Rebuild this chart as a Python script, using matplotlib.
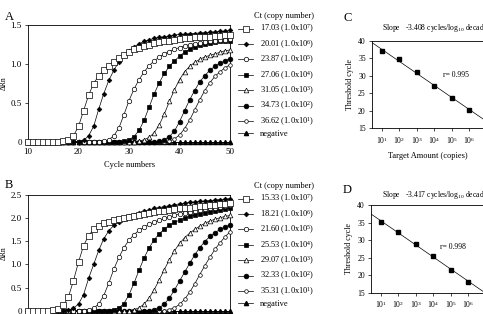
import numpy as np
import matplotlib
matplotlib.use('Agg')
import matplotlib.pyplot as plt
from matplotlib.lines import Line2D
from matplotlib.ticker import NullLocator, FixedLocator

plt.rcParams['font.family'] = ['Liberation Serif', 'DejaVu Serif']
plt.rcParams['mathtext.fontset'] = 'custom'
plt.rcParams['mathtext.rm'] = 'Liberation Serif'
plt.rcParams['mathtext.it'] = 'Liberation Serif:italic'
plt.rcParams['mathtext.bf'] = 'Liberation Serif:bold'

# ---- data -------------------------------------------------------------
cycles = list(range(10, 51))
copy_exp = [7, 6, 5, 4, 3, 2, 1]
ct_a = ['17.03', '20.01', '23.87', '27.06', '31.05', '34.73', '36.62']
ct_b = ['15.33', '18.21', '21.60', '25.53', '29.07', '32.33', '35.31']

# panel A, delta Rn per cycle (cycles 10..50)
a_e7 = [0, 0, 0, 0, 0, 0, 0, 0.01, 0.03, 0.08, 0.2, 0.4, 0.6, 0.75, 0.85, 0.92, 0.98, 1.03, 1.08, 1.12,
        1.16, 1.19, 1.21, 1.23, 1.25, 1.27, 1.28, 1.29, 1.3, 1.31, 1.32, 1.33, 1.33, 1.34, 1.34, 1.35,
        1.35, 1.36, 1.36, 1.37, 1.37]
a_e6 = [0, 0, 0, 0, 0, 0, 0, 0, 0, 0, 0, 0.02, 0.08, 0.2, 0.42, 0.62, 0.79, 0.92, 1.03, 1.11,
        1.17, 1.22, 1.26, 1.29, 1.31, 1.33, 1.34, 1.35, 1.36, 1.37, 1.38, 1.38, 1.39, 1.39, 1.4, 1.4,
        1.41, 1.41, 1.42, 1.42, 1.43]
a_e5 = [0, 0, 0, 0, 0, 0, 0, 0, 0, 0, 0, 0, 0, 0, 0, 0.01, 0.03, 0.08, 0.18, 0.35,
        0.53, 0.68, 0.8, 0.9, 0.98, 1.04, 1.09, 1.13, 1.16, 1.19, 1.21, 1.23, 1.25, 1.26, 1.27, 1.28,
        1.29, 1.3, 1.31, 1.31, 1.32]
a_e4 = [0, 0, 0, 0, 0, 0, 0, 0, 0, 0, 0, 0, 0, 0, 0, 0, 0, 0, 0, 0.01,
        0.03, 0.07, 0.15, 0.28, 0.45, 0.62, 0.76, 0.88, 0.97, 1.04, 1.1, 1.15, 1.19, 1.22, 1.24, 1.26,
        1.27, 1.28, 1.29, 1.3, 1.3]
a_e3 = [0, 0, 0, 0, 0, 0, 0, 0, 0, 0, 0, 0, 0, 0, 0, 0, 0, 0, 0, 0,
        0, 0, 0.01, 0.03, 0.06, 0.12, 0.22, 0.36, 0.52, 0.67, 0.8, 0.9, 0.97, 1.02, 1.06, 1.09,
        1.11, 1.13, 1.15, 1.17, 1.18]
a_e2 = [0, 0, 0, 0, 0, 0, 0, 0, 0, 0, 0, 0, 0, 0, 0, 0, 0, 0, 0, 0,
        0, 0, 0, 0, 0, 0, 0.01, 0.03, 0.07, 0.14, 0.26, 0.4, 0.54, 0.66, 0.77, 0.85,
        0.92, 0.97, 1.01, 1.04, 1.07]
a_e1 = [0, 0, 0, 0, 0, 0, 0, 0, 0, 0, 0, 0, 0, 0, 0, 0, 0, 0, 0, 0,
        0, 0, 0, 0, 0, 0, 0, 0, 0.01, 0.04, 0.09, 0.17, 0.28, 0.41, 0.54, 0.66,
        0.76, 0.84, 0.9, 0.95, 0.99]

# panel B
b_e7 = [0, 0, 0, 0, 0, 0.02, 0.05, 0.12, 0.3, 0.65, 1.05, 1.4, 1.62, 1.75, 1.83, 1.88, 1.92, 1.95, 1.98, 2.0,
        2.02, 2.04, 2.06, 2.08, 2.1, 2.12, 2.14, 2.15, 2.17, 2.18, 2.2, 2.21, 2.22, 2.24, 2.25, 2.26,
        2.27, 2.28, 2.29, 2.3, 2.31]
b_e6 = [0, 0, 0, 0, 0, 0, 0, 0, 0.02, 0.06, 0.15, 0.35, 0.7, 1.0, 1.3, 1.55, 1.72, 1.84, 1.92, 1.98,
        2.03, 2.07, 2.11, 2.14, 2.17, 2.2, 2.22, 2.24, 2.26, 2.28, 2.3, 2.31, 2.33, 2.34, 2.35, 2.36,
        2.37, 2.38, 2.39, 2.4, 2.41]
b_e5 = [0, 0, 0, 0, 0, 0, 0, 0, 0, 0, 0, 0, 0.02, 0.06, 0.15, 0.33, 0.6, 0.9, 1.15, 1.36,
        1.52, 1.64, 1.73, 1.8, 1.86, 1.91, 1.95, 1.99, 2.02, 2.05, 2.08, 2.1, 2.13, 2.15, 2.17, 2.19,
        2.21, 2.22, 2.24, 2.25, 2.27]
b_e4 = [0, 0, 0, 0, 0, 0, 0, 0, 0, 0, 0, 0, 0, 0, 0, 0, 0.01, 0.03, 0.07, 0.16,
        0.35, 0.6, 0.88, 1.14, 1.36, 1.53, 1.66, 1.76, 1.84, 1.9, 1.95, 1.99, 2.03, 2.06, 2.09, 2.11,
        2.13, 2.15, 2.17, 2.19, 2.2]
b_e3 = [0, 0, 0, 0, 0, 0, 0, 0, 0, 0, 0, 0, 0, 0, 0, 0, 0, 0, 0, 0,
        0.01, 0.03, 0.07, 0.15, 0.28, 0.46, 0.67, 0.89, 1.1, 1.29, 1.45, 1.57, 1.67, 1.75, 1.82, 1.88,
        1.93, 1.97, 2.0, 2.03, 2.05]
b_e2 = [0, 0, 0, 0, 0, 0, 0, 0, 0, 0, 0, 0, 0, 0, 0, 0, 0, 0, 0, 0,
        0, 0, 0, 0, 0.01, 0.03, 0.07, 0.15, 0.28, 0.45, 0.64, 0.83, 1.02, 1.2, 1.36, 1.49,
        1.6, 1.68, 1.75, 1.8, 1.85]
b_e1 = [0, 0, 0, 0, 0, 0, 0, 0, 0, 0, 0, 0, 0, 0, 0, 0, 0, 0, 0, 0,
        0, 0, 0, 0, 0, 0, 0, 0.01, 0.03, 0.07, 0.14, 0.25, 0.4, 0.58, 0.78, 0.97,
        1.15, 1.32, 1.46, 1.59, 1.7]
negative = [0] * len(cycles)

# standard curves (C, D)
target_exp = [1, 2, 3, 4, 5, 6]
ct_mean_c = [37.1, 34.6, 31.0, 27.0, 23.7, 20.1]
ct_err_c = [0.6, 0.5, 0.3, 0.3, 0.3, 0.5]
ct_mean_d = [35.3, 32.2, 29.0, 25.4, 21.5, 18.1]
ct_err_d = [0.5, 0.4, 0.3, 0.4, 0.4, 0.5]
slope_c, icpt_c = -3.408, 40.85
slope_d, icpt_d = -3.417, 38.9

# ---- styles -----------------------------------------------------------
mk = ['s', 'D', 'o', 's', '^', 'o', 'o']
mfc = ['white', 'black', 'white', 'black', 'white', 'black', 'white']
ms = [3.8, 2.4, 3.2, 3.4, 3.4, 3.4, 2.6]

W, H = 483, 314
fig = plt.figure(figsize=(W / 100, H / 100), dpi=100)


def frac(x0, y0, x1, y1):
    return [x0 / W, 1 - y1 / H, (x1 - x0) / W, (y1 - y0) / H]


def amp_panel(rect, curves, cts, ymax, yticks, legend_top, xlabels=True):
    ax = fig.add_axes(rect)
    ax.plot(cycles, negative, color='black', lw=0.5, marker='^', ms=3,
            mfc='black', mec='black', clip_on=False, zorder=2)
    handles = []
    for i in range(6, -1, -1):
        ax.plot(cycles, curves[i], color='black', lw=0.5, marker=mk[i], ms=ms[i],
                mfc=mfc[i], mec='black', mew=0.5, clip_on=False, zorder=3 + (6 - i))
    for i in range(7):
        handles.append(Line2D([], [], color='black', lw=0.5, marker=mk[i], ms=ms[i],
                              mfc=mfc[i], mec='black', mew=0.5))
    handles.append(Line2D([], [], color='black', lw=0.5, marker='^', ms=3, mfc='black'))
    labels = [f'{c} (1.0x10$^{{{e}}}$)' for c, e in zip(cts, copy_exp)] + ['negative']
    ax.set_xlim(10, 50)
    ax.set_ylim(0, ymax)
    ax.set_xticks([10, 20, 30, 40, 50])
    ax.set_yticks(yticks)
    ax.set_yticklabels(['0'] + [f'{v:.1f}' for v in yticks[1:]])
    ax.tick_params(labelsize=6.5, length=2.5, width=0.5, pad=2, direction='out')
    if not xlabels:
        ax.tick_params(axis='x', labelbottom=False)
    for s in ax.spines.values():
        s.set_linewidth(0.6)
    ax.set_ylabel('ΔRn', fontsize=5.5, labelpad=2)
    ax.legend(handles, labels, loc='upper left', frameon=False,
              bbox_to_anchor=(238 / W, 1 - legend_top / H), bbox_transform=fig.transFigure,
              fontsize=6, title='Ct (copy number)', title_fontsize=6,
              handlelength=1.8, handletextpad=0.8, labelspacing=0.33,
              borderpad=0, borderaxespad=0, numpoints=1, alignment='right')
    return ax


def std_panel(rect, means, errs, slope, icpt, slope_txt, r_txt, r_xy, slope_y):
    ax = fig.add_axes(rect)
    xs = [10.0 ** e for e in target_exp]
    ax.errorbar(xs, means, yerr=errs, fmt='s', color='black', ms=2.2, elinewidth=0.6,
                capsize=1.2, capthick=0.6, zorder=3)
    lx = np.array([10 ** 0.3, 10 ** 8])
    ax.plot(lx, icpt + slope * np.log10(lx), color='black', lw=0.5)
    ax.set_xscale('log')
    ax.set_xlim(10 ** 0.425, 10 ** 7.78)
    ax.set_ylim(15, 40)
    ax.xaxis.set_major_locator(FixedLocator(xs))
    ax.xaxis.set_minor_locator(NullLocator())
    ax.set_yticks([15, 20, 25, 30, 35, 40])
    ax.tick_params(labelsize=5.5, length=2.5, width=0.5, pad=2, direction='out')
    for s in ax.spines.values():
        s.set_linewidth(0.6)
    ax.spines['right'].set_visible(False)
    ax.set_ylabel('Threshold cycle', fontsize=5.8, labelpad=3)
    fig.text(382 / W, 1 - slope_y / H, slope_txt, fontsize=5.5, va='center', ha='left')
    fig.text(r_xy[0] / W, 1 - r_xy[1] / H, r_txt, fontsize=5.5, va='center', ha='left')
    return ax


ax_a = amp_panel(frac(28, 25, 230, 142), [a_e7, a_e6, a_e5, a_e4, a_e3, a_e2, a_e1],
                 ct_a, 1.5, [0, 0.5, 1.0, 1.5], 12)
ax_b = amp_panel(frac(28, 194.5, 230, 311), [b_e7, b_e6, b_e5, b_e4, b_e3, b_e2, b_e1],
                 ct_b, 2.5, [0, 0.5, 1.0, 1.5, 2.0, 2.5], 182, xlabels=False)
fig.text(130 / W, 1 - 165 / H, 'Cycle numbers', fontsize=6, ha='center', va='center')

ax_c = std_panel(frac(372, 40.5, 500, 128.3), ct_mean_c, ct_err_c, slope_c, icpt_c,
                 'Slope   -3.408 cycles/log$_{10}$ decade', 'r= 0.995', (443, 75), 28)
ax_c.set_xlabel('Target Amount (copies)', fontsize=6, labelpad=4)
ax_c.xaxis.set_label_coords((428 - 372) / 128, -0.27)
ax_d = std_panel(frac(371, 205, 499, 293), ct_mean_d, ct_err_d, slope_d, icpt_d,
                 'Slope   -3.417 cycles/log$_{10}$ decade', 'r= 0.998', (440, 247), 195)

for txt, x, y in [('A', 5, 17), ('B', 5, 185), ('C', 343, 18), ('D', 343, 190)]:
    fig.text(x / W, 1 - y / H, txt, fontsize=9, ha='left', va='center')

fig.savefig('out.png', dpi=100)
